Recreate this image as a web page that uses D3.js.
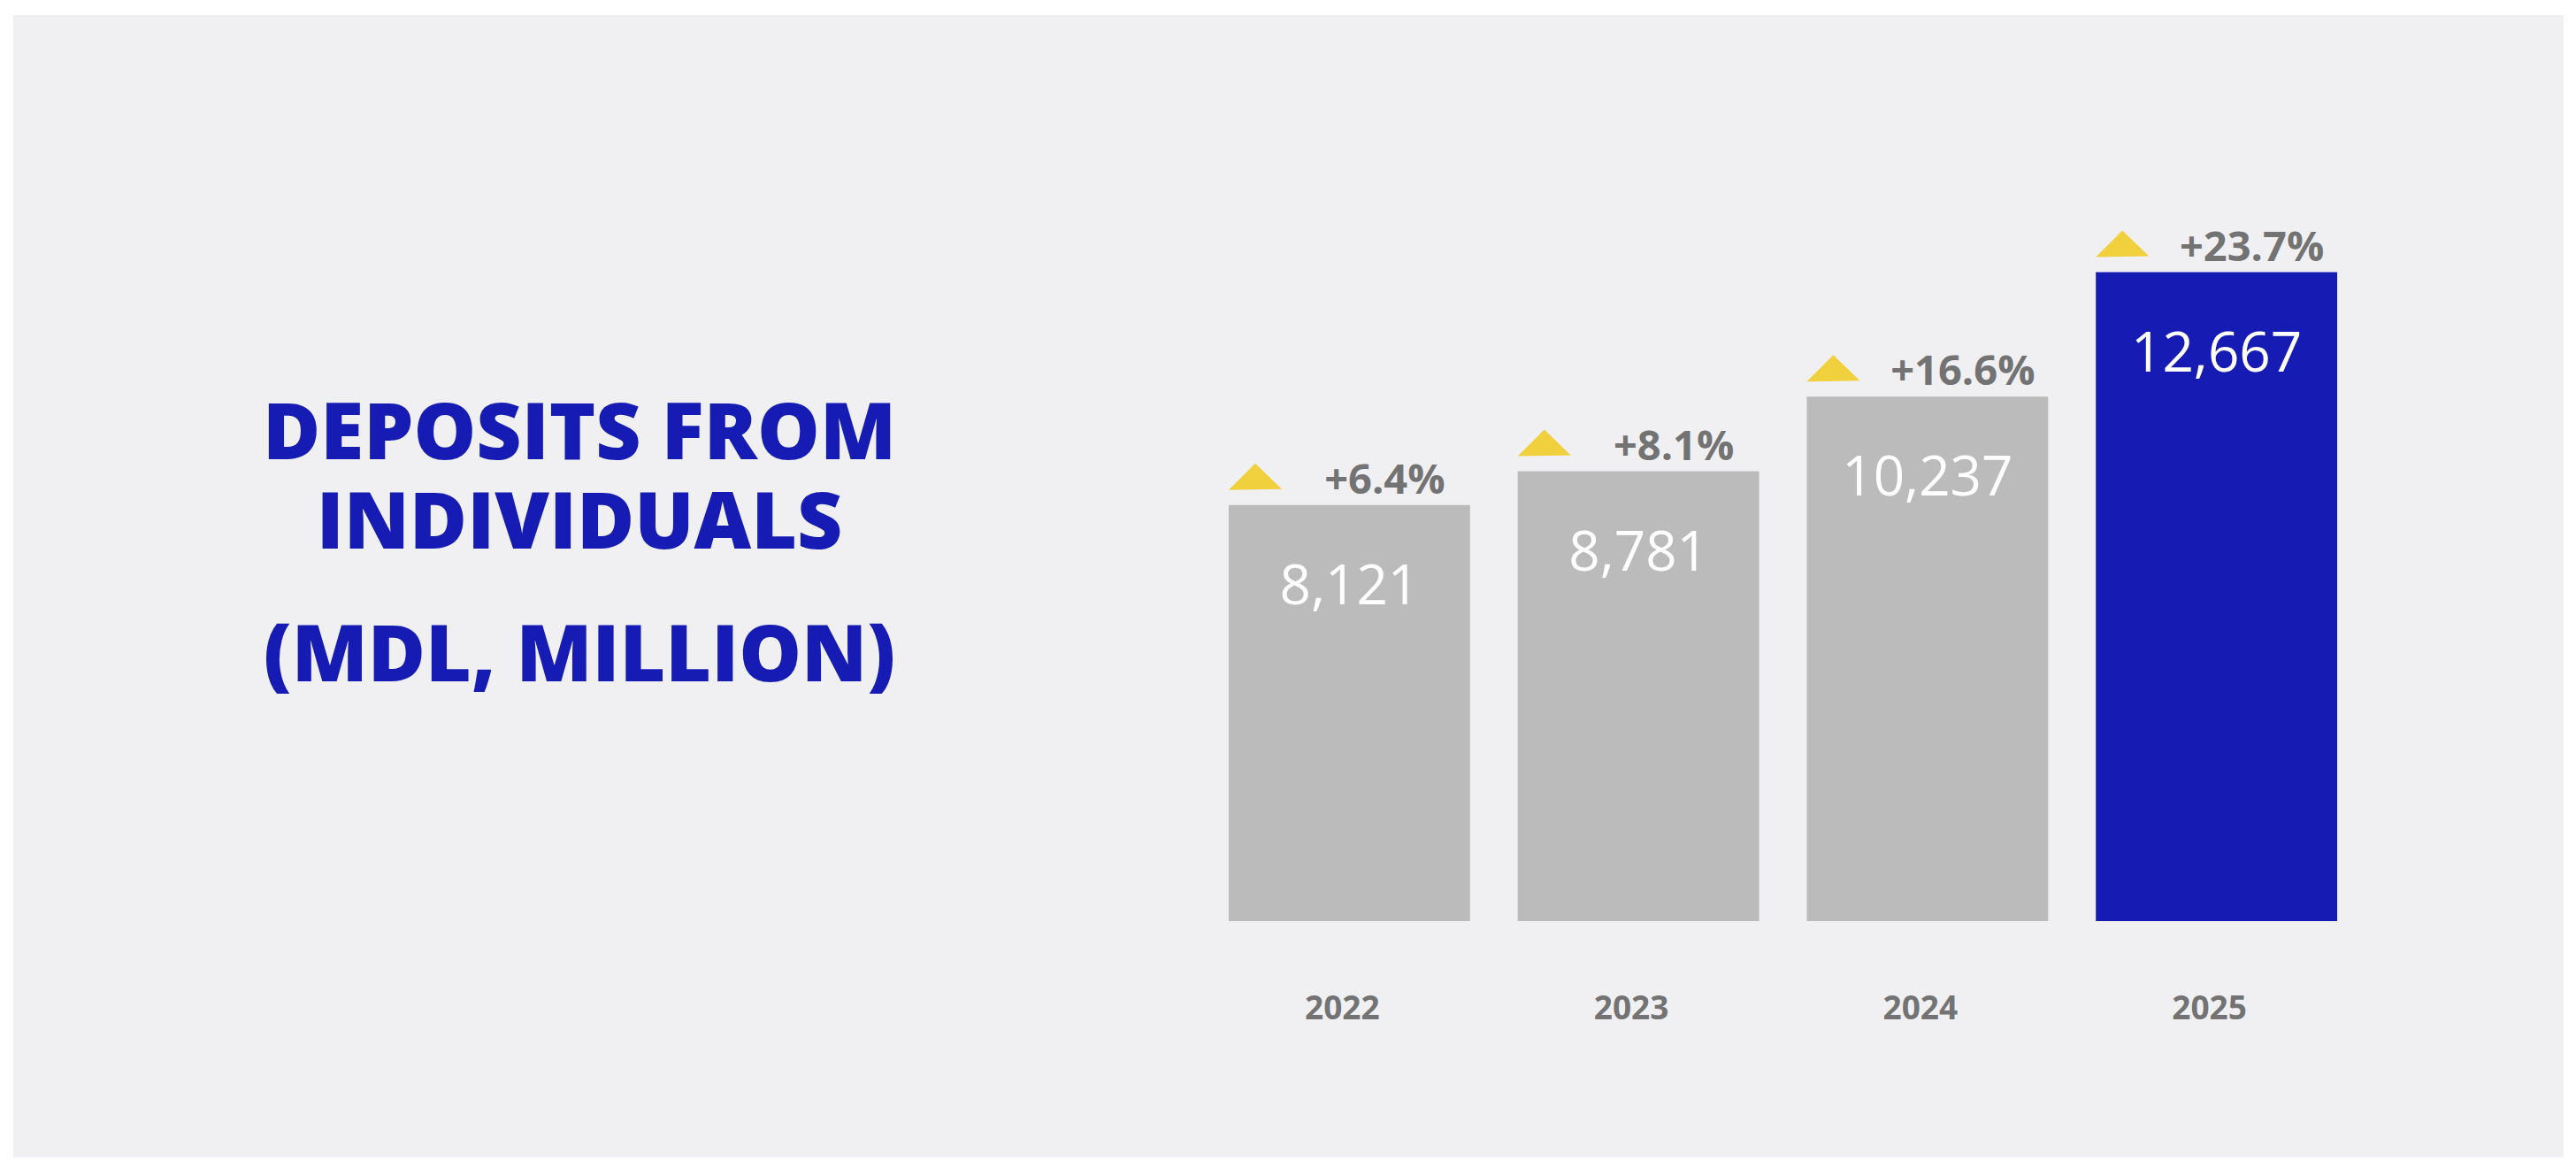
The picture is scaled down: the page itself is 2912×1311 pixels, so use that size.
<!DOCTYPE html>
<html>
<head>
<meta charset="utf-8">
<script src="https://cdn.jsdelivr.net/npm/d3@7"></script>
<style>
  html, body { margin: 0; padding: 0; background: #ffffff; }
  svg { display: block; }
</style>
</head>
<body>
<svg id="chart" width="2912" height="1311"></svg>
<script>
// Deposits from individuals, MDL million, year-end
const years = ["2022", "2023", "2024", "2025"];
const deposits = [8121, 8781, 10237, 12667];
const growth = ["+6.4%", "+8.1%", "+16.6%", "+23.7%"];
const titleLines = ["DEPOSITS FROM", "INDIVIDUALS", "(MDL, MILLION)"];

const W = 2912, H = 1311;
const svg = d3.select("#chart");

const BLUE = "#161cb3";
const GREY_BAR = "#bbbbbb";
const GREY_TEXT = "#737373";
const YELLOW = "#f0d03c";
const FONT = "'Open Sans', 'Noto Sans', sans-serif";

// background panel
svg.append("rect")
  .attr("x", 15).attr("y", 17)
  .attr("width", 2883).attr("height", 1291)
  .attr("fill", "#f0f0f2");

// title block: one text element, one tspan per line
const titleY = [519, 620, 770];
svg.append("text")
  .attr("text-anchor", "middle")
  .attr("font-family", FONT)
  .attr("font-weight", 800)
  .attr("font-size", 89)
  .attr("fill", BLUE)
  .selectAll("tspan")
  .data(titleLines)
  .join("tspan")
  .attr("x", 655)
  .attr("y", (d, i) => titleY[i])
  .text(d => d);

// scales
const x = d3.scaleBand()
  .domain(years)
  .range([1362, 2669])
  .paddingInner(0.165)
  .paddingOuter(0.0825);

const y = d3.scaleLinear()
  .domain([0, 13000])
  .range([1041, 1041 - 13000 * 0.0579]);

const data = years.map((yr, i) => ({ year: yr, value: deposits[i], growth: growth[i] }));

// bars
svg.append("g")
  .selectAll("rect")
  .data(data)
  .join("rect")
  .attr("x", d => x(d.year))
  .attr("y", d => y(d.value))
  .attr("width", x.bandwidth())
  .attr("height", d => y(0) - y(d.value))
  .attr("fill", (d, i) => i === data.length - 1 ? BLUE : GREY_BAR);

// value labels inside bars
svg.append("g")
  .selectAll("text")
  .data(data)
  .join("text")
  .attr("x", d => x(d.year) + x.bandwidth() / 2)
  .attr("y", d => y(d.value) + 112)
  .attr("text-anchor", "middle")
  .attr("font-family", FONT)
  .attr("font-weight", 400)
  .attr("font-size", 62)
  .attr("fill", "#ffffff")
  .text(d => d3.format(",")(d.value));

// growth markers: yellow triangles
svg.append("g")
  .selectAll("path")
  .data(data)
  .join("path")
  .attr("d", d => {
    const x0 = x(d.year), b = y(d.value) - 17;
    return `M${x0},${b} L${x0 + 60},${b - 1} L${x0 + 30},${b - 30} Z`;
  })
  .attr("fill", YELLOW);

// growth percentages
svg.append("g")
  .selectAll("text")
  .data(data)
  .join("text")
  .attr("x", d => x(d.year) + x.bandwidth() / 2 + 40)
  .attr("y", d => y(d.value) - 13)
  .attr("text-anchor", "middle")
  .attr("font-family", FONT)
  .attr("font-weight", 700)
  .attr("font-size", 47)
  .attr("fill", GREY_TEXT)
  .text(d => d.growth);

// category axis (labels only)
const xAxis = svg.append("g")
  .attr("transform", `translate(0,${y(0)})`)
  .call(d3.axisBottom(x).tickSize(0).tickPadding(111));
xAxis.select(".domain").remove();
xAxis.selectAll("text")
  .attr("font-family", FONT)
  .attr("font-weight", 700)
  .attr("font-size", 37)
  .attr("fill", GREY_TEXT)
  .attr("dx", -8)
  .attr("dy", 0)
  .attr("dominant-baseline", "alphabetic");
</script>
</body>
</html>
